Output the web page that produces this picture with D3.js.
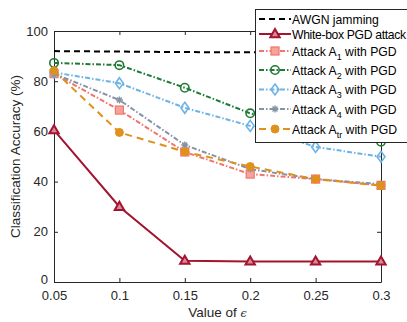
<!DOCTYPE html>
<html>
<head>
<meta charset="utf-8">
<script src="https://cdn.jsdelivr.net/npm/d3@7"></script>
<style>
  body { margin: 0; background: #fff; }
  svg { font-family: "Liberation Sans", Arial, sans-serif; }
</style>
</head>
<body>
<svg id="chart" width="407" height="322"></svg>
<script>
const epsilons = [0.05, 0.1, 0.15, 0.2, 0.25, 0.3]
const xTicks = ["0.05", "0.1", "0.15", "0.2", "0.25", "0.3"]
const yTicks = [0, 20, 40, 60, 80, 100]

const awgn = [92, 91.8, 91.6, 91.5, 91.3, 91.2]
const whiteBox = [60.5, 30, 8.5, 8.2, 8.2, 8.2]
const attackA1 = [83, 68.5, 51.8, 43, 41, 38.5]
const attackA2 = [87.3, 86.4, 77.4, 67.2, 61, 55.9]
const attackA3 = [83.5, 79.2, 69.4, 62.2, 53.8, 49.9]
const attackA4 = [83, 72.5, 54.6, 45, 41, 39]
const attackAtr = [84.2, 59.6, 51.9, 46, 41, 38.4]

const series = [
  { name: "AWGN jamming", sub: null, rest: "", values: awgn, color: "#000000", dash: "6,4", marker: null, width: 2 },
  { name: "White-box PGD attack", sub: null, rest: "", values: whiteBox, color: "#A2142F", dash: null, marker: "triangle", width: 2 },
  { name: "Attack A", sub: "1", rest: " with PGD", values: attackA1, color: "#F0766C", dash: "5,2,1.5,2", marker: "square", width: 2 },
  { name: "Attack A", sub: "2", rest: " with PGD", values: attackA2, color: "#1F7A35", dash: "5,2,1.5,2", marker: "circle", width: 2 },
  { name: "Attack A", sub: "3", rest: " with PGD", values: attackA3, color: "#6DB3E6", dash: "5,2,1.5,2", marker: "diamond", width: 2 },
  { name: "Attack A", sub: "4", rest: " with PGD", values: attackA4, color: "#8593A6", dash: "5,2,1.5,2", marker: "star", width: 2 },
  { name: "Attack A", sub: "tr", rest: " with PGD", values: attackAtr, color: "#E0901C", dash: "7,5", marker: "dot", width: 2 }
]

const margin = { top: 31, right: 26, bottom: 40, left: 54 }
const svg = d3.select("#chart")
const width = 407 - margin.left - margin.right
const height = 322 - margin.top - margin.bottom
const viz = svg.append("g").attr("transform", `translate(${margin.left},${margin.top})`)

const x = d3.scaleLinear().domain([0.05, 0.3]).range([0, width])
const y = d3.scaleLinear().domain([0, 100]).range([height, 0])

// axes, MATLAB style box with ticks inside
const tickColor = "#262626"
const xAxis = d3.axisBottom(x).tickValues(epsilons).tickFormat((d, i) => xTicks[i]).tickSizeInner(-4).tickSizeOuter(0).tickPadding(9)
const yAxis = d3.axisLeft(y).tickValues(yTicks).tickSizeInner(-4).tickSizeOuter(0).tickPadding(6)
const gx = viz.append("g").attr("transform", `translate(0,${height})`).call(xAxis)
const gy = viz.append("g").call(yAxis)
viz.append("g").attr("transform", `translate(${width},0)`)
  .call(d3.axisRight(y).tickValues(yTicks).tickSizeInner(-4).tickSizeOuter(0).tickFormat(""))
viz.append("g")
  .call(d3.axisTop(x).tickValues(epsilons).tickSizeInner(-4).tickSizeOuter(0).tickFormat(""))
viz.selectAll(".domain, .tick line").attr("stroke", tickColor).attr("stroke-width", 1)
;[gx, gy].forEach(g => g.selectAll("text").attr("font-size", 13).attr("fill", tickColor))
gy.selectAll(".tick text").filter(d => d === 0).attr("dy", "0.15em")

svg.append("text")
  .attr("transform", `translate(20,${margin.top + height / 2}) rotate(-90)`)
  .attr("text-anchor", "middle")
  .attr("font-size", 13.5)
  .attr("fill", tickColor)
  .text("Classification Accuracy (%)")

svg.append("text")
  .attr("x", margin.left + width / 2)
  .attr("y", 317)
  .attr("text-anchor", "middle")
  .attr("font-size", 13.5)
  .attr("fill", tickColor)
  .text("Value of ")
  .append("tspan").attr("font-family", "DejaVu Serif").attr("font-style", "italic").attr("font-size", 11).text("\u03F5")

function drawMarker(g, type, cx, cy, color) {
  if (type === "triangle") {
    g.append("path").attr("d", d3.symbol(d3.symbolTriangle, 38)()).attr("transform", `translate(${cx},${cy + 0.5})`)
      .attr("fill", "#D88A98").attr("stroke", color).attr("stroke-width", 2)
  } else if (type === "square") {
    g.append("rect").attr("x", cx - 4).attr("y", cy - 4).attr("width", 8).attr("height", 8)
      .attr("fill", "#F7A39C").attr("stroke", color).attr("stroke-width", 1.2)
  } else if (type === "circle") {
    g.append("circle").attr("cx", cx).attr("cy", cy).attr("r", 4.2)
      .attr("fill", "none").attr("stroke", color).attr("stroke-width", 1.6)
  } else if (type === "diamond") {
    g.append("path").attr("d", `M${cx},${cy - 5.5}L${cx + 4},${cy}L${cx},${cy + 5.5}L${cx - 4},${cy}Z`)
      .attr("fill", "none").attr("stroke", color).attr("stroke-width", 1.6)
  } else if (type === "star") {
    g.append("path").attr("d", `M${cx - 3.5},${cy}H${cx + 3.5}M${cx},${cy - 3.5}V${cy + 3.5}M${cx - 2.5},${cy - 2.5}L${cx + 2.5},${cy + 2.5}M${cx - 2.5},${cy + 2.5}L${cx + 2.5},${cy - 2.5}`)
      .attr("stroke", color).attr("stroke-width", 1.4)
  } else if (type === "dot") {
    g.append("circle").attr("cx", cx).attr("cy", cy).attr("r", 4)
      .attr("fill", color).attr("stroke", color)
  }
}

const line = d3.line().x((d, i) => x(epsilons[i])).y(d => y(d))

series.forEach(s => {
  const g = viz.append("g")
  g.append("path").datum(s.values).attr("d", line)
    .attr("fill", "none").attr("stroke", s.color).attr("stroke-width", s.width)
    .attr("stroke-dasharray", s.dash)
  if (s.marker) {
    s.values.forEach((v, i) => drawMarker(g, s.marker, x(epsilons[i]), y(v), s.color))
  }
})

// Legend
const legend = svg.append("g")
legend.append("rect").attr("x", 255.5).attr("y", 9.5).attr("width", 160).attr("height", 133)
  .attr("fill", "#fff").attr("stroke", tickColor).attr("stroke-width", 1)
const rowY = [19, 34, 51, 70, 89.5, 109, 129]
series.forEach((s, i) => {
  const ly = rowY[i]
  const g = legend.append("g")
  g.append("line").attr("x1", 259).attr("x2", 291).attr("y1", ly).attr("y2", ly)
    .attr("stroke", s.color).attr("stroke-width", s.width).attr("stroke-dasharray", s.dash)
  if (s.marker) drawMarker(g, s.marker, 275, ly, s.color)
  const t = g.append("text").attr("x", 292).attr("y", ly + 4.5).attr("font-size", 12.2).attr("fill", "#000")
    .attr("textLength", s.sub ? null : (s.name.length > 15 ? 114 : null))
  t.append("tspan").text(s.name)
  if (s.sub) {
    t.append("tspan").attr("dy", 4).attr("font-size", 9).text(s.sub)
    t.append("tspan").attr("dy", -4).text(s.rest)
  }
})
</script>
</body>
</html>
